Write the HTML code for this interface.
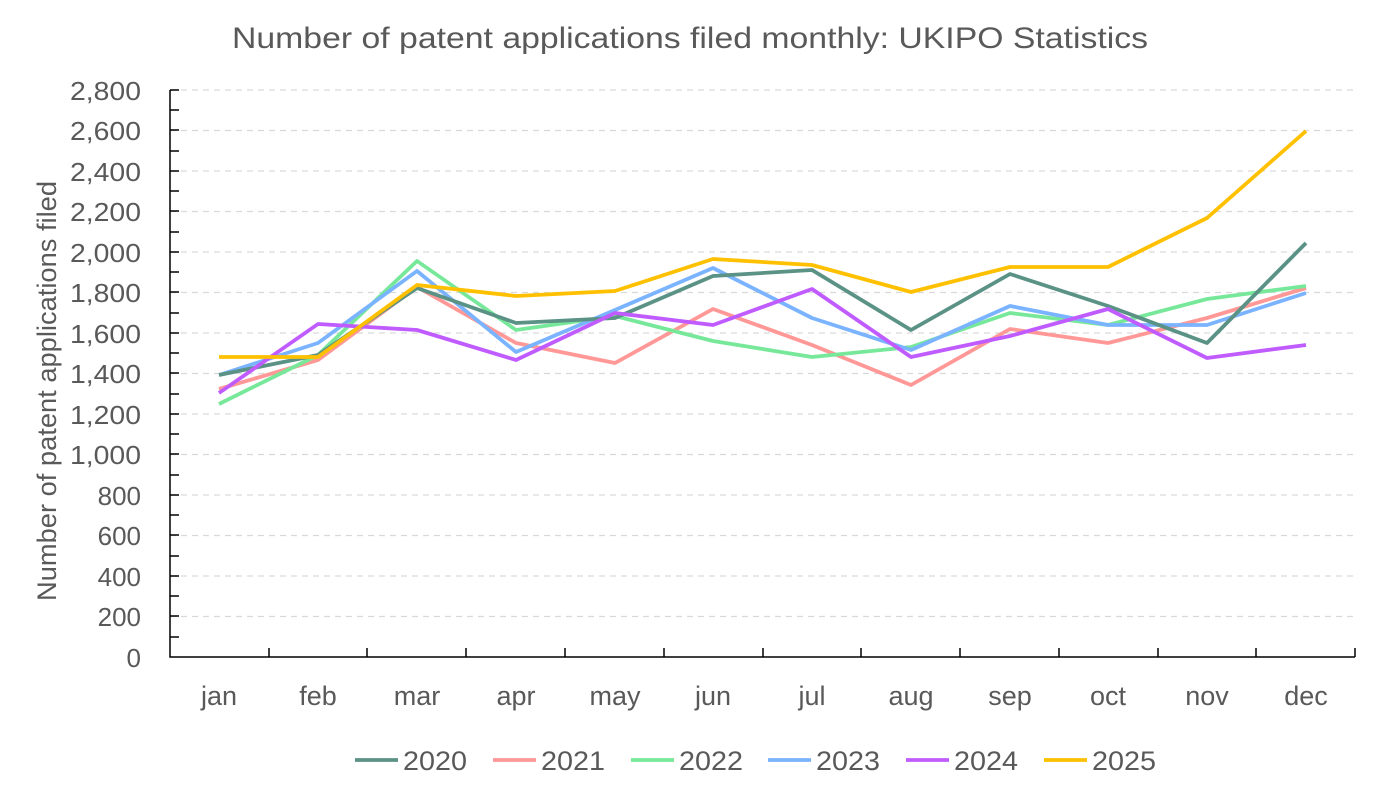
<!DOCTYPE html><html><head><style>body{margin:0;background:#fff}svg{display:block}text{font-family:"Liberation Sans",sans-serif;fill:#595959}</style></head><body>
<svg width="1379" height="788" xmlns="http://www.w3.org/2000/svg">
<text x="232" y="48" font-size="30" textLength="916" lengthAdjust="spacingAndGlyphs">Number of patent applications filed monthly: UKIPO Statistics</text>
<g stroke="#d9d9d9" stroke-width="1.3" stroke-dasharray="6,5">
<line x1="170" x2="1355" y1="90" y2="90"/><line x1="170" x2="1355" y1="130.5" y2="130.5"/><line x1="170" x2="1355" y1="171" y2="171"/><line x1="170" x2="1355" y1="211.5" y2="211.5"/><line x1="170" x2="1355" y1="252" y2="252"/><line x1="170" x2="1355" y1="292.5" y2="292.5"/><line x1="170" x2="1355" y1="333" y2="333"/><line x1="170" x2="1355" y1="373.5" y2="373.5"/><line x1="170" x2="1355" y1="414" y2="414"/><line x1="170" x2="1355" y1="454.5" y2="454.5"/><line x1="170" x2="1355" y1="495" y2="495"/><line x1="170" x2="1355" y1="535.5" y2="535.5"/><line x1="170" x2="1355" y1="576" y2="576"/><line x1="170" x2="1355" y1="616.5" y2="616.5"/>
</g>
<g font-size="26" text-anchor="end">
<text x="141" y="100" textLength="71" lengthAdjust="spacingAndGlyphs">2,800</text><text x="141" y="140" textLength="71" lengthAdjust="spacingAndGlyphs">2,600</text><text x="141" y="181" textLength="71" lengthAdjust="spacingAndGlyphs">2,400</text><text x="141" y="221" textLength="71" lengthAdjust="spacingAndGlyphs">2,200</text><text x="141" y="262" textLength="71" lengthAdjust="spacingAndGlyphs">2,000</text><text x="141" y="302" textLength="71" lengthAdjust="spacingAndGlyphs">1,800</text><text x="141" y="343" textLength="71" lengthAdjust="spacingAndGlyphs">1,600</text><text x="141" y="383" textLength="71" lengthAdjust="spacingAndGlyphs">1,400</text><text x="141" y="424" textLength="71" lengthAdjust="spacingAndGlyphs">1,200</text><text x="141" y="464" textLength="71" lengthAdjust="spacingAndGlyphs">1,000</text><text x="141" y="505">800</text><text x="141" y="545">600</text><text x="141" y="586">400</text><text x="141" y="626">200</text><text x="141" y="667">0</text>
</g>
<text transform="translate(56,391) rotate(-90)" font-size="27" text-anchor="middle" textLength="420" lengthAdjust="spacingAndGlyphs">Number of patent applications filed</text>
<g stroke="#000" stroke-width="1.5" fill="none">
<path d="M170,90V657H1355"/>
<path d="M170,110h9M170,151h9M170,191h9M170,232h9M170,272h9M170,313h9M170,353h9M170,394h9M170,434h9M170,475h9M170,515h9M170,556h9M170,596h9M170,637h9M170,90h9M170,130h9M170,171h9M170,211h9M170,252h9M170,292h9M170,333h9M170,373h9M170,414h9M170,454h9M170,495h9M170,535h9M170,576h9M170,616h9"/>
<path d="M269,657v-9M367,657v-9M466,657v-9M565,657v-9M664,657v-9M763,657v-9M861,657v-9M960,657v-9M1059,657v-9M1158,657v-9M1256,657v-9M1355,657v-9"/>
</g>
<g font-size="27" text-anchor="middle">
<text x="219" y="705">jan</text><text x="318" y="705">feb</text><text x="417" y="705">mar</text><text x="516" y="705">apr</text><text x="615" y="705">may</text><text x="713" y="705">jun</text><text x="812" y="705">jul</text><text x="911" y="705">aug</text><text x="1010" y="705">sep</text><text x="1108" y="705">oct</text><text x="1207" y="705">nov</text><text x="1306" y="705">dec</text>
</g>
<g fill="none" stroke-width="3.8" stroke-linejoin="round">
<polyline stroke="#ff9896" points="219,389 318,360 417,287 516,343 615,363 713,309 812,345 911,385 1010,329 1108,343 1207,318 1306,288"/>
<polyline stroke="#77e89a" points="219,404 318,355 417,261 516,330 615,316 713,341 812,357 911,347 1010,313 1108,325 1207,299 1306,286"/>
<polyline stroke="#7ab3ff" points="219,375 318,343 417,271 516,352 615,310 713,268 812,318 911,350 1010,306 1108,325 1207,325 1306,293"/>
<polyline stroke="#5b9286" points="219,375 318,355 417,288 516,323 615,318 713,276 812,270 911,330 1010,274 1108,306 1207,343 1306,243"/>
<polyline stroke="#c05cff" points="219,393 318,324 417,330 516,360 615,313 713,325 812,289 911,357 1010,336 1108,309 1207,358 1306,345"/>
<polyline stroke="#ffc000" points="219,357 318,357 417,285 516,296 615,291 713,259 812,265 911,292 1010,267 1108,267 1207,218 1306,131"/>
</g>
<g stroke-width="3.8">
<line x1="355" x2="398" y1="760" y2="760" stroke="#5b9286"/><line x1="493" x2="536" y1="760" y2="760" stroke="#ff9896"/><line x1="631" x2="674" y1="760" y2="760" stroke="#77e89a"/><line x1="768" x2="811" y1="760" y2="760" stroke="#7ab3ff"/><line x1="906" x2="949" y1="760" y2="760" stroke="#c05cff"/><line x1="1044" x2="1087" y1="760" y2="760" stroke="#ffc000"/>
</g>
<g font-size="27">
<text x="403" y="770" textLength="64" lengthAdjust="spacingAndGlyphs">2020</text><text x="541" y="770" textLength="64" lengthAdjust="spacingAndGlyphs">2021</text><text x="679" y="770" textLength="64" lengthAdjust="spacingAndGlyphs">2022</text><text x="816" y="770" textLength="64" lengthAdjust="spacingAndGlyphs">2023</text><text x="954" y="770" textLength="64" lengthAdjust="spacingAndGlyphs">2024</text><text x="1092" y="770" textLength="64" lengthAdjust="spacingAndGlyphs">2025</text>
</g>
</svg></body></html>
